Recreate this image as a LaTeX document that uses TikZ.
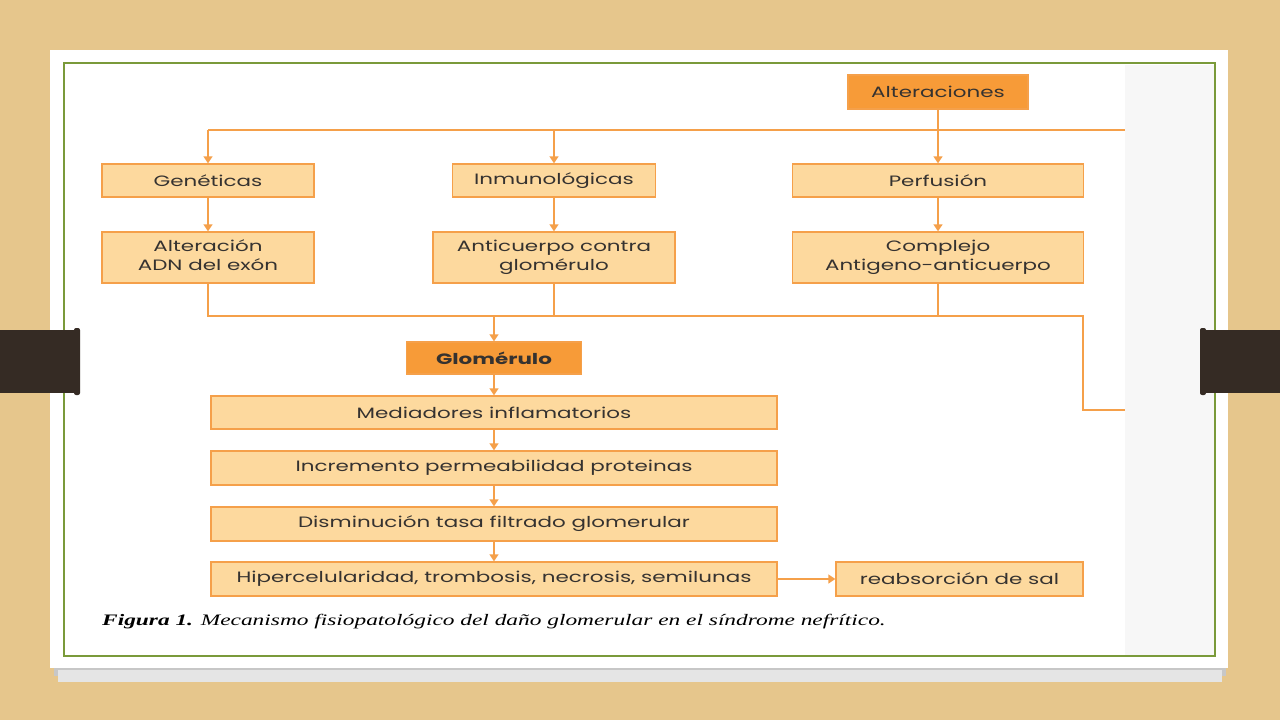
\documentclass[tikz,border=0pt]{standalone}
\usepackage{fontspec}
\usepackage{graphicx}
\setmainfont{Poppins}
\newfontfamily\capfont{Liberation Serif}
\usetikzlibrary{arrows.meta}
\definecolor{wood}{HTML}{E6C68C}
\definecolor{boxfill}{HTML}{FDD99E}
\definecolor{boxline}{HTML}{F5A04A}
\definecolor{darkfill}{HTML}{F79B38}
\definecolor{txt}{HTML}{353230}
\definecolor{frame}{HTML}{7A9A3A}
\definecolor{tab}{HTML}{352B24}
\newcommand\sx[1]{\raisebox{-1.5pt}{\scalebox{1.43}[1]{#1}}}
\newcommand\twol[2]{\sx{\begin{tabular}{@{}c@{}}#1\\#2\end{tabular}}}
\tikzset{
  box/.style={draw=boxline, fill=boxfill, line width=1.4pt, inner sep=0pt, align=center,
    text=txt, font=\fontsize{15}{19}\selectfont},
  darkbox/.style={box, fill=darkfill},
  conn/.style={draw=boxline, line width=1.6pt},
  arr/.style={conn, -{Triangle[width=9pt,length=7pt]}}
}
\begin{document}
\begin{tikzpicture}[x=1pt,y=-1pt]
\useasboundingbox (0,0) rectangle (1280,720);
\fill[wood] (0,0) rectangle (1280,720);
% shadow
\fill[black!22] (54,656) rectangle (1226,676);
\fill[black!10] (58,670) rectangle (1222,682);
% card
\fill[white] (50,50) rectangle (1228,668);
\fill[black!3] (1125,65) rectangle (1214,655);
\draw[frame, line width=2pt] (64,63) rectangle (1215,656);
% tabs
\fill[tab] (0,330) rectangle (78,393);
\fill[tab, rounded corners=2pt] (74,328) rectangle (80,395);
\fill[tab] (1202,330) rectangle (1280,393);
\fill[tab, rounded corners=2pt] (1200,328) rectangle (1206,395);

% nodes
\node[darkbox, minimum width=180pt, minimum height=34pt] (alt) at (938,92) {\sx{Alteraciones}};
\node[box, minimum width=212pt, minimum height=33pt] (gen) at (208,180.5) {\sx{Genéticas}};
\node[box, minimum width=203pt, minimum height=33pt] (inm) at (554,180.5) {\sx{Inmunológicas}};
\node[box, minimum width=291pt, minimum height=33pt] (per) at (938,180.5) {\sx{Perfusión}};
\node[box, minimum width=212pt, minimum height=51pt] (adn) at (208,257.5) {\twol{Alteración}{ADN del exón}};
\node[box, minimum width=242pt, minimum height=51pt] (anti) at (554,257.5) {\twol{Anticuerpo contra}{glomérulo}};
\node[box, minimum width=291pt, minimum height=51pt] (comp) at (938,257.5) {\twol{Complejo}{Antigeno-anticuerpo}};
\node[darkbox, minimum width=175pt, minimum height=32pt, font=\fontsize{15}{19}\selectfont\bfseries] (glom) at (494,358) {\sx{Glomérulo}};
\node[box, minimum width=566pt, minimum height=33pt] (med) at (494,412.5) {\sx{Mediadores inflamatorios}};
\node[box, minimum width=566pt, minimum height=34pt] (inc) at (494,468) {\sx{Incremento permeabilidad proteinas}};
\node[box, minimum width=566pt, minimum height=34pt] (dis) at (494,524) {\sx{Disminución tasa filtrado glomerular}};
\node[box, minimum width=566pt, minimum height=34pt] (hip) at (494,579) {\sx{Hipercelularidad, trombosis, necrosis, semilunas}};
\node[box, minimum width=247pt, minimum height=34pt] (reab) at (959.5,579) {\sx{reabsorción de sal}};

\node[anchor=west, inner sep=0pt, text=black, font=\capfont\fontsize{16}{18}\selectfont\itshape] (cap) at (102,622)
  {\scalebox{1.46}[1]{\textbf{Figura 1.} Mecanismo fisiopatológico del daño glomerular en el síndrome nefrítico.}};

% connectors
\coordinate (tL) at (208,130);
\coordinate (tR) at (1125,130);
\coordinate (bL) at (208,316);
\coordinate (bC) at (1083,316);
\coordinate (bD) at (1083,410);
\coordinate (bR) at (1125,410);
\draw[conn] (tL) -- (tR);
\draw[arr] (alt.south) -- (per.north);
\draw[arr] (tL) -- (gen.north);
\draw[arr] (inm.north |- tL) -- (inm.north);
\draw[arr] (gen) -- (adn);
\draw[arr] (inm) -- (anti);
\draw[arr] (per) -- (comp);
\draw[conn] (adn.south) -- (bL) -- (bC) -- (bD) -- (bR);
\draw[conn] (anti.south) -- (anti.south |- bL);
\draw[conn] (comp.south) -- (comp.south |- bL);
\draw[arr] (glom.north |- bL) -- (glom.north);
\draw[arr] (glom) -- (med);
\draw[arr] (med) -- (inc);
\draw[arr] (inc) -- (dis);
\draw[arr] (dis) -- (hip);
\draw[arr] (hip.east) -- (reab.west);
\end{tikzpicture}
\end{document}
